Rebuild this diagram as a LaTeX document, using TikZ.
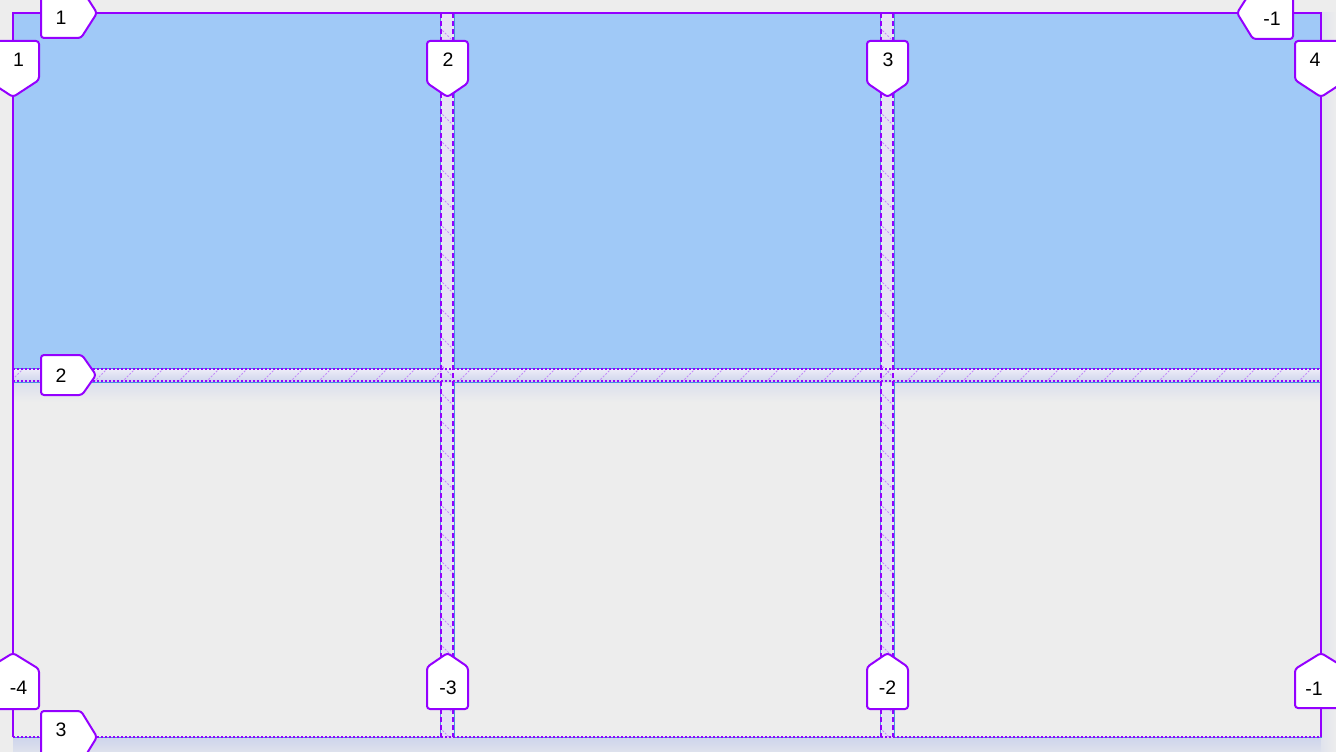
\documentclass[tikz,border=0pt]{standalone}
\usepackage{fontspec}
\setmainfont{Liberation Sans}
\definecolor{bg}{RGB}{237,237,237}
\definecolor{cellblue}{RGB}{160,201,247}
\definecolor{gridpurple}{RGB}{148,0,255}
\definecolor{edgeblue}{RGB}{74,144,226}
\definecolor{gapfill}{RGB}{230,228,244}
\definecolor{hatchc}{RGB}{196,140,250}
\definecolor{shadowc}{RGB}{205,212,236}
\begin{document}
\begin{tikzpicture}[x=1pt,y=-1pt,
  lbl/.style={draw=gridpurple,fill=white,line width=2pt,rounded corners=3pt,line join=round},
  lbltext/.style={inner sep=0pt,font=\fontsize{19.5}{20}\selectfont},
  cellbox/.style={draw=edgeblue,line width=1pt},
  outline/.style={draw=gridpurple,line width=2pt,line join=miter},
  gapline/.style={gridpurple,line width=2pt,dash pattern=on 5pt off 3pt},
  rowline/.style={gridpurple,line width=2pt,dash pattern=on 2pt off 2pt},
  hatchline/.style={hatchc,line width=1pt,dash pattern=on 2pt off 1.5pt}]
\useasboundingbox (0,0) rectangle (1336,752);
\clip (0,0) rectangle (1336,752);
% background
\fill[bg] (0,0) rectangle (1336,752);
% shadows
\shade[top color=shadowc!55!bg, bottom color=bg] (13,382) rectangle (1321,402);
\shade[top color=shadowc, bottom color=shadowc!45!bg] (13,737) rectangle (1321,752);
\shade[left color=shadowc!40!bg, right color=bg] (1321,13) rectangle (1336,752);
% top row cells
\fill[cellblue] (13,13) rectangle (440,368);
\fill[cellblue] (454,13) rectangle (880,368);
\fill[cellblue] (894,13) rectangle (1321,368);
% gaps
\fill[gapfill] (440,13) rectangle (454,737);
\fill[gapfill] (880,13) rectangle (894,737);
\shade[top color=gapfill!60!white, bottom color=shadowc] (13,368) rectangle (1321,382);
% hatching in column gaps
\begin{scope}
  \clip (440,13) rectangle (454,737) (880,13) rectangle (894,737);
  \foreach \y in {0,28,...,740} {
    \draw[hatchline] (440,\y) -- (454,\y+14);
    \draw[hatchline] (880,\y) -- (894,\y+14);
  }
\end{scope}
% hatching in row gap
\begin{scope}
  \clip (13,368) rectangle (1321,382);
  \foreach \x in {10,38,...,1330} {
    \draw[hatchline] (\x,382) -- (\x+14,368);
  }
\end{scope}
% cell borders
\draw[cellbox] (13,13) rectangle (440,368);
\draw[cellbox] (454,13) rectangle (880,368);
\draw[cellbox] (894,13) rectangle (1321,368);
\draw[cellbox] (13,382) rectangle (440,737);
\draw[cellbox] (454,382) rectangle (880,737);
\draw[cellbox] (894,382) rectangle (1321,737);
% grid lines
\draw[rowline] (13,737) -- (1321,737);
\draw[rowline] (13,369) -- (1321,369);
\draw[rowline] (13,381) -- (1321,381);
\draw[gapline] (441,13) -- (441,737);
\draw[gapline] (453,13) -- (453,737);
\draw[gapline] (881,13) -- (881,737);
\draw[gapline] (893,13) -- (893,737);
\draw[outline] (13,737) -- (13,13) -- (1321,13) -- (1321,737);
% labels: row line labels
\draw[lbl] (41,-12) -- (41,38) -- (81,38) -- (97,13) -- (81,-12) -- cycle;
\node[lbltext] (r1) at (61,18) {1};
\draw[lbl] (41,355) -- (82,355) -- (96,375) -- (82,395) -- (41,395) -- cycle;
\node[lbltext] (r2) at (61,376) {2};
\draw[lbl] (41,711) -- (81,711) -- (97,737) -- (81,763) -- (41,763) -- cycle;
\node[lbltext] (r3) at (61,730) {3};
\draw[lbl] (1237,13) -- (1253,-12) -- (1293,-12) -- (1293,39) -- (1253,39) -- cycle;
\node[lbltext] (rm1) at (1272,19) {-1};
% labels: column line labels (top)
\draw[lbl] (-13,41) -- (39,41) -- (39,80) -- (13,97) -- (-13,80) -- cycle;
\node[lbltext] (c1) at (18.5,60) {1};
\draw[lbl] (427,41) -- (468,41) -- (468,83) -- (447.5,97) -- (427,83) -- cycle;
\node[lbltext] (c2) at (448,60) {2};
\draw[lbl] (867,41) -- (908,41) -- (908,83) -- (887.5,97) -- (867,83) -- cycle;
\node[lbltext] (c3) at (888,60) {3};
\draw[lbl] (1295,41) -- (1347,41) -- (1347,80) -- (1321,97) -- (1295,80) -- cycle;
\node[lbltext] (c4) at (1315,60) {4};
% labels: column line labels (bottom)
\draw[lbl] (13,653) -- (39,669) -- (39,709) -- (-13,709) -- (-13,669) -- cycle;
\node[lbltext] (cm4) at (18.5,688) {-4};
\draw[lbl] (447.5,653) -- (468,667) -- (468,709) -- (427,709) -- (427,667) -- cycle;
\node[lbltext] (cm3) at (448,688) {-3};
\draw[lbl] (887.5,653) -- (908,667) -- (908,709) -- (867,709) -- (867,667) -- cycle;
\node[lbltext] (cm2) at (887.5,688) {-2};
\draw[lbl] (1321,653) -- (1347,669) -- (1347,708) -- (1295,708) -- (1295,669) -- cycle;
\node[lbltext] (cm1) at (1314,689) {-1};
\end{tikzpicture}
\end{document}
